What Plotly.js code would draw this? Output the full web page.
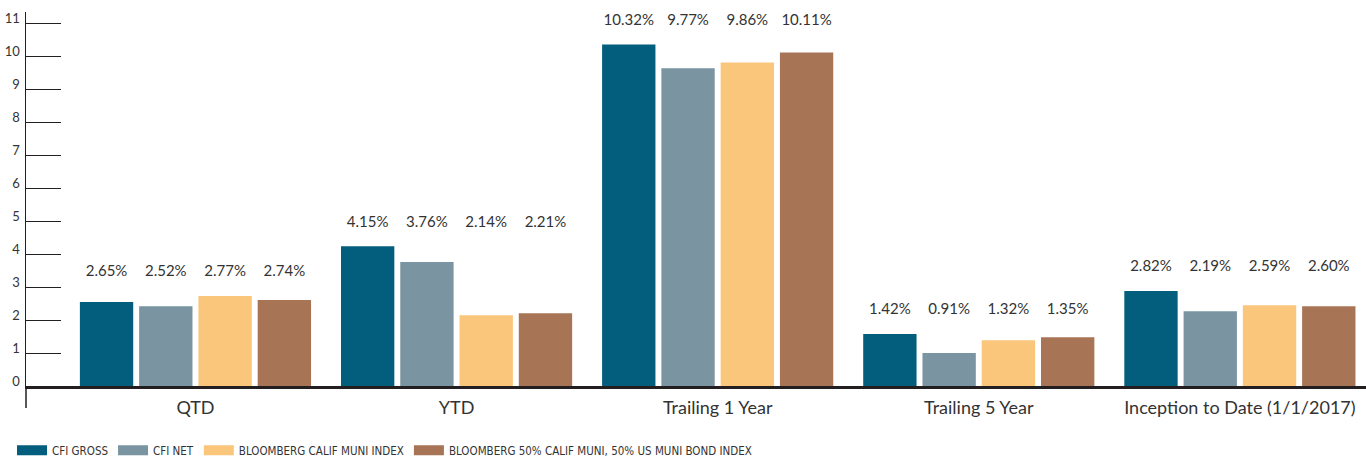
<!DOCTYPE html>
<html>
<head>
<meta charset="utf-8">
<script src="https://cdn.plot.ly/plotly-3.0.1.min.js"></script>
<style>html,body{margin:0;padding:0;background:#fff;}#chart{width:1366px;height:458px;}</style>
</head>
<body>
<div id="chart"></div>
<script>
// Categories
const categories = ["QTD", "YTD", "Trailing 1 Year", "Trailing 5 Year", "Inception to Date (1/1/2017)"];
const seriesNames = ["CFI GROSS", "CFI NET", "BLOOMBERG CALIF MUNI INDEX", "BLOOMBERG 50% CALIF MUNI, 50% US MUNI BOND INDEX"];

// Bar heights as drawn in the picture
const cfiGross = [2.55, 4.24, 10.36, 1.58, 2.88];
const cfiNet = [2.42, 3.76, 9.64, 1.00, 2.27];
const bbgCalif = [2.73, 2.15, 9.82, 1.39, 2.45];
const bbgBlend = [2.61, 2.21, 10.12, 1.48, 2.42];

// Printed value labels
const cfiGrossLabels = ["2.65%", "4.15%", "10.32%", "1.42%", "2.82%"];
const cfiNetLabels = ["2.52%", "3.76%", "9.77%", "0.91%", "2.19%"];
const bbgCalifLabels = ["2.77%", "2.14%", "9.86%", "1.32%", "2.59%"];
const bbgBlendLabels = ["2.74%", "2.21%", "10.11%", "1.35%", "2.60%"];

// Y tick values
const yTicks = [0, 1, 2, 3, 4, 5, 6, 7, 8, 9, 10, 11];

const colors = ["#025e7c", "#7a95a1", "#fac67c", "#a77556"];
const values = [cfiGross, cfiNet, bbgCalif, bbgBlend];
const labels = [cfiGrossLabels, cfiNetLabels, bbgCalifLabels, bbgBlendLabels];

// label height per group = tallest bar of that group
const groupMax = categories.map((c, i) => Math.max(...values.map(v => v[i])));

const FONT = "Lato, 'Open Sans', sans-serif";
const NARROW = "'Liberation Sans Narrow', 'DejaVu Sans Condensed', Lato, sans-serif";
const traces = [];
values.forEach((v, k) => {
  traces.push({
    type: "bar", x: categories, y: v, name: seriesNames[k],
    marker: {color: colors[k]}, offsetgroup: "g" + k, hoverinfo: "skip",
    showlegend: false
  });
});
values.forEach((v, k) => {
  traces.push({
    type: "scatter", mode: "markers+text", x: categories, y: groupMax,
    text: labels[k], textposition: "top center",
    textfont: {family: FONT, size: 15, color: "#333"},
    marker: {size: 24, color: "rgba(0,0,0,0)"},
    offsetgroup: "g" + k, showlegend: false, hoverinfo: "skip", cliponaxis: false
  });
});
// legend entries drawn as wide colour swatches
seriesNames.forEach((name, k) => {
  traces.push({
    type: "scatter", mode: "lines", x: [categories[0]], y: [null], name: name,
    line: {color: colors[k], width: 13}, offsetgroup: "g" + k, hoverinfo: "skip"
  });
});

const layout = {
  width: 1366, height: 458,
  margin: {l: 26, r: 0, t: 12, b: 72, autoexpand: false},
  paper_bgcolor: "#fff", plot_bgcolor: "#fff",
  barmode: "group", bargap: 0.092, bargroupgap: 0.1,
  scattermode: "group", scattergap: 0.092,
  font: {family: FONT, color: "#333"},
  xaxis: {
    type: "category", range: [-0.649, 4.483],
    showline: true, linecolor: "#231f20", linewidth: 2.5,
    ticks: "", showgrid: false, zeroline: false,
    tickfont: {family: FONT, size: 18, color: "#333"},
    ticklabelstandoff: 4
  },
  yaxis: {
    range: [0, 11.35], tickvals: yTicks, ticktext: yTicks.map(String),
    ticks: "inside", ticklen: 35, tickwidth: 1, tickcolor: "#231f20",
    showline: true, linecolor: "#231f20", linewidth: 1.5,
    showgrid: false, zeroline: false,
    tickfont: {family: FONT, size: 13, color: "#333"},
    ticklabelshift: -5, ticklabelstandoff: 2
  },
  showlegend: true,
  legend: {
    orientation: "h", xref: "container", yref: "container",
    x: 0.0088, xanchor: "left", y: 0.017, yanchor: "middle",
    font: {family: NARROW, size: 11.5, color: "#333"},
    itemwidth: 30, traceorder: "normal", bgcolor: "rgba(0,0,0,0)"
  },
  shapes: [{
    type: "line", xref: "paper", yref: "paper", x0: 0, x1: 0, y0: 0, y1: -0.059,
    line: {color: "#231f20", width: 1.5}
  }]
};

Plotly.newPlot("chart", traces, layout, {displayModeBar: false, staticPlot: true});
</script>
</body>
</html>
